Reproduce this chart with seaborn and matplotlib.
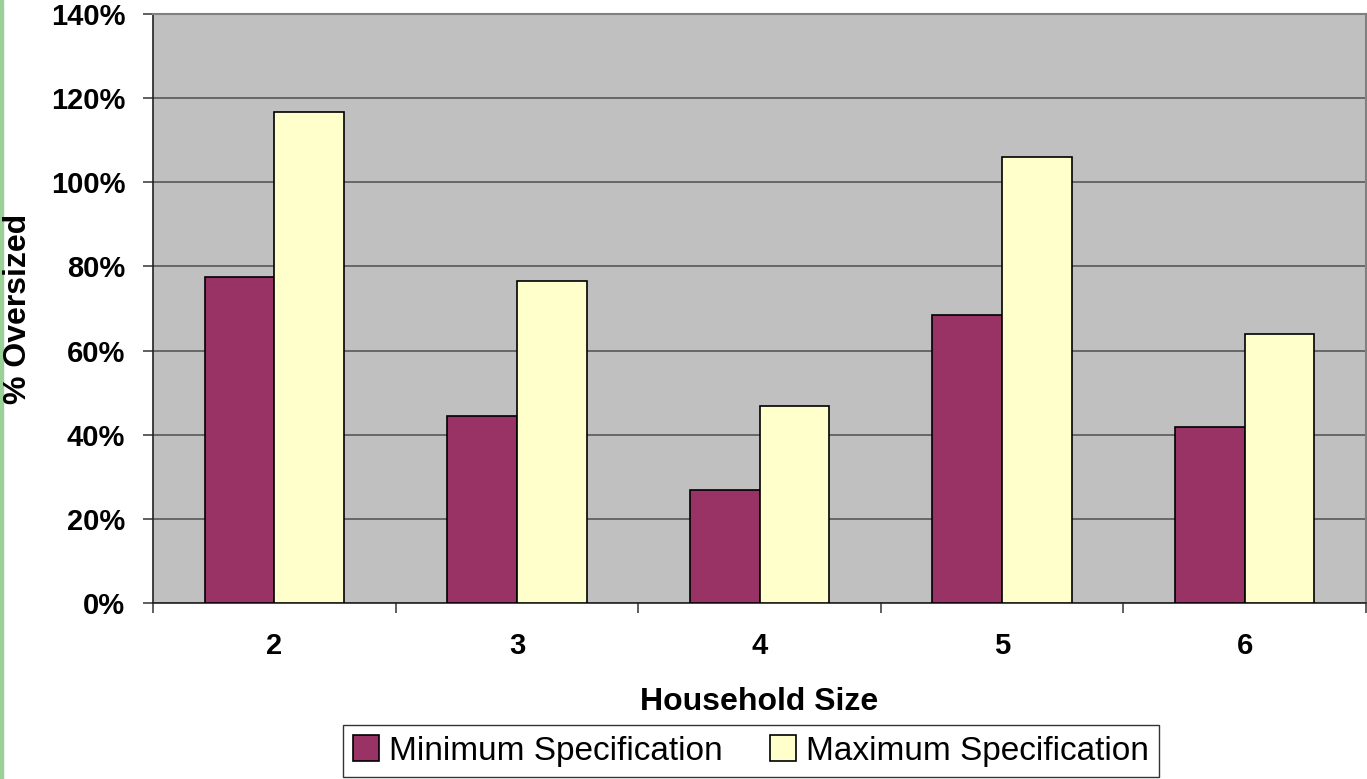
import pandas as pd
import seaborn as sns
import matplotlib.pyplot as plt
from matplotlib.ticker import FixedLocator, FuncFormatter

household_size = ['2', '3', '4', '5', '6']
min_spec = [77.5, 44.4, 26.9, 68.5, 41.8]
max_spec = [116.7, 76.5, 46.8, 106.0, 63.9]
series = ['Minimum Specification', 'Maximum Specification']

df = pd.DataFrame({
    'Household Size': household_size * 2,
    'Oversized': min_spec + max_spec,
    'Spec': [series[0]] * 5 + [series[1]] * 5,
})

sns.set_style('white')
plt.rcParams['font.family'] = ['Liberation Sans', 'DejaVu Sans']
plt.rcParams['text.color'] = 'black'
plt.rcParams['axes.labelcolor'] = 'black'
plt.rcParams['xtick.color'] = 'black'
plt.rcParams['ytick.color'] = 'black'

fig = plt.figure(figsize=(13.67, 7.79), dpi=100)
ax = fig.add_axes([153 / 1367, 1 - 603 / 779, 1213 / 1367, 589 / 779])

sns.barplot(data=df, x='Household Size', y='Oversized', hue='Spec',
            palette=['#993366', '#FFFFCC'], saturation=1, width=0.575, gap=0,
            edgecolor='black', linewidth=1.2, ax=ax, zorder=3)

ax.set_facecolor('#C0C0C0')
ax.set_ylim(0, 140)
ax.set_xlim(-0.5, 4.5)
ax.set_yticks(range(0, 141, 20))
ax.yaxis.set_major_formatter(FuncFormatter(lambda v, p: f'{int(v)}%'))
ax.grid(axis='y', color='#606060', linewidth=1.3, zorder=0)
ax.set_axisbelow(True)

ax.xaxis.set_minor_locator(FixedLocator([i - 0.5 for i in range(6)]))
ax.tick_params(axis='x', which='major', bottom=True, length=0, pad=21, labelsize=21, labelcolor='black')
ax.tick_params(axis='x', which='minor', bottom=True, length=7, width=1.2, color='#444444', direction='out')
ax.tick_params(axis='y', left=True, length=7, width=1.2, color='#444444', direction='out', pad=13,
               labelsize=21, labelcolor='black')
for lbl in ax.get_xticklabels() + ax.get_yticklabels():
    lbl.set_fontweight('bold')

ax.set_xlabel('Household Size', fontsize=23, fontweight='bold', labelpad=19, color='black')
ax.set_ylabel('% Oversized', fontsize=23, fontweight='bold', color='black')
# centre of the rotated label sits ~18px from the left edge of the figure
ax.yaxis.set_label_coords((18 - 153) / 1213, 0.5)
ax.yaxis.label.set_va('center')

for side in ['left', 'bottom']:
    ax.spines[side].set_color('#222222')
    ax.spines[side].set_linewidth(1.2)
for side in ['top', 'right']:
    ax.spines[side].set_color('#808080')
    ax.spines[side].set_linewidth(1.5)

ax.legend_.remove()
handles, labels = ax.get_legend_handles_labels()
leg = fig.legend(handles, labels, loc='center', bbox_to_anchor=(751 / 1367, 1 - 751 / 779),
                 ncol=2, fontsize=24, frameon=True, fancybox=False, edgecolor='black',
                 handlelength=0.8, handleheight=0.8, handletextpad=0.3, columnspacing=1.4,
                 borderpad=0.3, labelcolor='black')
leg.get_frame().set_linewidth(1.0)

fig.add_artist(plt.Rectangle((0, 0), 3 / 1367, 1, transform=fig.transFigure,
                             color='#99D199', zorder=0))

fig.savefig('out.png', dpi=100)
